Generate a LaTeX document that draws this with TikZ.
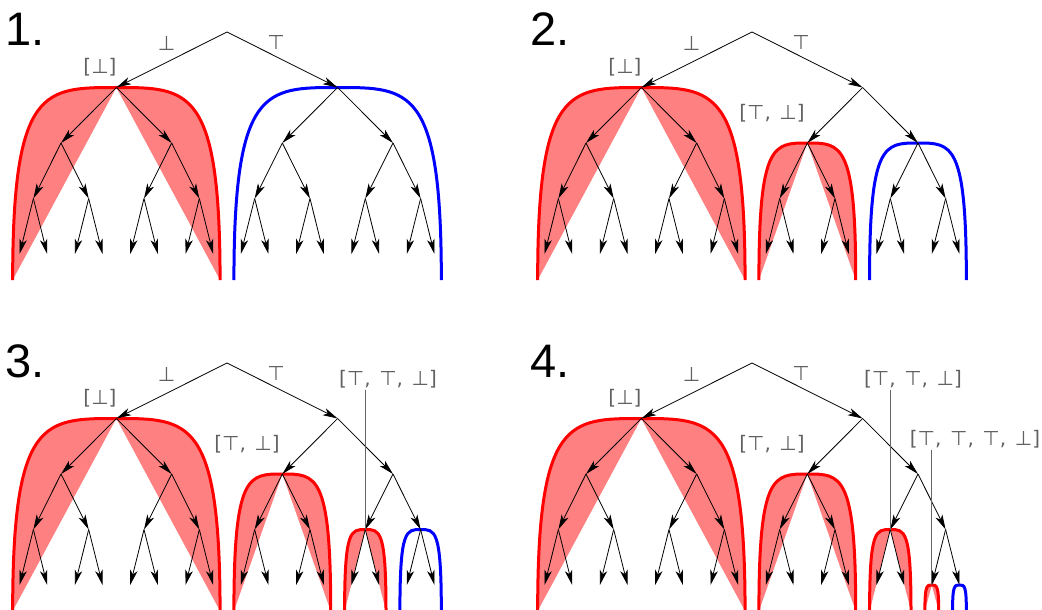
\documentclass[tikz,border=0pt]{standalone}
\usepackage{fontspec}
\setmainfont{DejaVu Sans}
\newfontfamily\numfont{Liberation Sans}
\usetikzlibrary{arrows.meta}
\tikzset{
  x=1pt, y=-1pt,
  edge/.style={line width=0.8pt, -{Stealth[length=15pt,width=7.5pt,inset=4pt]}},
  lbl/.style={text=black!62, font=\fontsize{20}{22}\selectfont, inner sep=0pt},
  num/.style={font=\numfont\fontsize{47}{50}\selectfont, anchor=base west, inner sep=0pt},
  pin/.style={draw=black!60, line width=1.1pt},
  curve/.style={line width=3pt},
}
\newcommand\sepc{,\hspace{8.6pt}}
\newcommand\maketree[1]{%
  \coordinate (#1) at (227,32);
  \foreach \pa in {0,1}{
    \coordinate (#1\pa) at ({227+(2*\pa-1)*110.64},87.5);
    \foreach \pb in {0,1}{
      \coordinate (#1\pa\pb) at ({227+(2*\pa-1)*110.64+(2*\pb-1)*55.32},143);
      \foreach \pc in {0,1}{
        \coordinate (#1\pa\pb\pc) at ({227+(2*\pa-1)*110.64+(2*\pb-1)*55.32+(2*\pc-1)*27.66},198.5);
        \foreach \pd in {0,1}{
          \coordinate (#1\pa\pb\pc\pd) at ({227+(2*\pa-1)*110.64+(2*\pb-1)*55.32+(2*\pc-1)*27.66+(2*\pd-1)*13.83},254);
        }}}}}
\newcommand\drawedges[1]{%
  \foreach \pa in {0,1}{
    \draw[edge] (#1) -- (#1\pa);
    \foreach \pb in {0,1}{
      \draw[edge] (#1\pa) -- (#1\pa\pb);
      \foreach \pc in {0,1}{
        \draw[edge] (#1\pa\pb) -- (#1\pa\pb\pc);
        \foreach \pd in {0,1}{
          \draw[edge] (#1\pa\pb\pc) -- (#1\pa\pb\pc\pd);
        }}}}}
% #1 node, #2 half width, #3 height, #4 colour, #5 shaded (1/0)
\newcommand\blob[5]{%
  \path (#1) +(-#2,#3) coordinate (blobBL) +(#2,#3) coordinate (blobBR)
    +(-0.7*#2,0) coordinate (blobCA) +(0.7*#2,0) coordinate (blobCB)
    +(-#2,0) coordinate (blobCC) +(#2,0) coordinate (blobCD);
  \ifnum#5=1
    \fill[#4!50] (#1) .. controls (blobCA) and (blobCC) .. (blobBL) -- cycle;
    \fill[#4!50] (#1) .. controls (blobCB) and (blobCD) .. (blobBR) -- cycle;
  \fi
  \draw[curve, #4] (blobBL) .. controls (blobCC) and (blobCA) .. (#1) .. controls (blobCB) and (blobCD) .. (blobBR);
}
\begin{document}
\begin{tikzpicture}
\useasboundingbox (0,0) rectangle (1042,610);
% ---------- panel 1
\begin{scope}
  \maketree{pA}
  \blob{pA0}{103.7}{192.5}{red}{1}
  \blob{pA1}{103.7}{192.5}{blue}{0}
  \drawedges{pA}
  \node[num] (nA) at (5,46) {1.};
  \node[lbl] (lA0) at (166.5,43.5) {⊥};
  \node[lbl] (lA1) at (276,42.5) {⊤};
  \node[lbl] (lA2) at (100,67) {[⊥]};
\end{scope}
% ---------- panel 2
\begin{scope}[shift={(525,0)}]
  \maketree{pB}
  \blob{pB0}{103.7}{192.5}{red}{1}
  \blob{pB10}{48.4}{137}{red}{1}
  \blob{pB11}{48.4}{137}{blue}{0}
  \drawedges{pB}
  \node[num] (nB) at (5,46) {2.};
  \node[lbl] (lB0) at (166.5,43.5) {⊥};
  \node[lbl] (lB1) at (276,42.5) {⊤};
  \node[lbl] (lB2) at (100,67) {[⊥]};
  \node[lbl] (lB3) at (247,113) {[⊤\sepc⊥]};
\end{scope}
% ---------- panel 3
\begin{scope}[shift={(0,331)}]
  \maketree{pC}
  \blob{pC0}{103.7}{192.5}{red}{1}
  \blob{pC10}{48.4}{137}{red}{1}
  \blob{pC110}{20.7}{81.5}{red}{1}
  \blob{pC111}{20.7}{81.5}{blue}{0}
  \drawedges{pC}
  \node[num] (nC) at (5,46) {3.};
  \node[lbl] (lC0) at (166.5,43.5) {⊥};
  \node[lbl] (lC1) at (276,42.5) {⊤};
  \node[lbl] (lC2) at (100,67) {[⊥]};
  \node[lbl] (lC3) at (247,113) {[⊤\sepc⊥]};
  \node[lbl] (lC4) at (388,48) {[⊤\sepc⊤\sepc⊥]};
  \path (lC4.south -| pC110) coordinate (tC4);
  \draw[pin] ([yshift=-2pt]tC4) -- (pC110);
\end{scope}
% ---------- panel 4
\begin{scope}[shift={(525,331)}]
  \maketree{pD}
  \blob{pD0}{103.7}{192.5}{red}{1}
  \blob{pD10}{48.4}{137}{red}{1}
  \blob{pD110}{20.7}{81.5}{red}{1}
  \blob{pD1110}{6.9}{26}{red}{1}
  \blob{pD1111}{6.9}{26}{blue}{0}
  \drawedges{pD}
  \node[num] (nD) at (5,46) {4.};
  \node[lbl] (lD0) at (166.5,43.5) {⊥};
  \node[lbl] (lD1) at (276,42.5) {⊤};
  \node[lbl] (lD2) at (100,67) {[⊥]};
  \node[lbl] (lD3) at (247,113) {[⊤\sepc⊥]};
  \node[lbl] (lD4) at (388,48) {[⊤\sepc⊤\sepc⊥]};
  \path (lD4.south -| pD110) coordinate (tD4);
  \draw[pin] ([yshift=-2pt]tD4) -- (pD110);
  \node[lbl] (lD5) at (450,108) {[⊤\sepc⊤\sepc⊤\sepc⊥]};
  \path (lD5.south -| pD1110) coordinate (tD5);
  \draw[pin] ([yshift=-2pt]tD5) -- (pD1110);
\end{scope}
\end{tikzpicture}
\end{document}
